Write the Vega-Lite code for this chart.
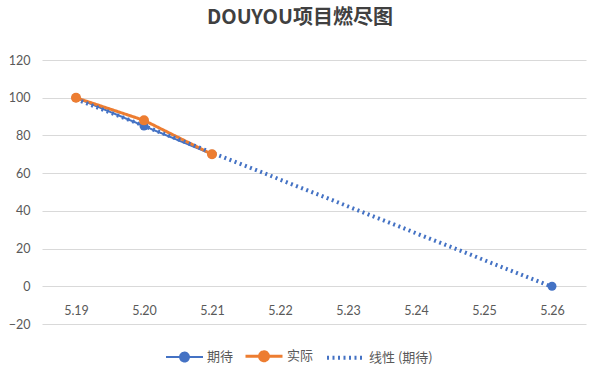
{
  "$schema": "https://vega.github.io/schema/vega-lite/v6.json",
  "width": 544,
  "height": 264,
  "autosize": {"type": "none"},
  "padding": {"left": 42, "top": 60, "right": 15, "bottom": 48},
  "background": "white",
  "config": {"view": {"stroke": null}},
  "title": {
    "text": "DOUYOU项目燃尽图",
    "font": "Noto Sans CJK SC",
    "fontSize": 20,
    "fontWeight": "bold",
    "color": "#404040",
    "anchor": "middle",
    "dx": -14,
    "offset": 26
  },
  "data": {
    "values": [
      {"date": "5.19", "series": "期待", "value": 100},
      {"date": "5.20", "series": "期待", "value": 85},
      {"date": "5.21", "series": "期待", "value": 70},
      {"date": "5.22", "series": "期待", "value": null},
      {"date": "5.26", "series": "期待", "value": 0},
      {"date": "5.19", "series": "实际", "value": 100},
      {"date": "5.20", "series": "实际", "value": 88},
      {"date": "5.21", "series": "实际", "value": 70},
      {"date": "5.19", "series": "线性 (期待)", "value": 99.3},
      {"date": "5.26", "series": "线性 (期待)", "value": -0.3}
    ]
  },
  "encoding": {
    "x": {
      "field": "date",
      "type": "ordinal",
      "scale": {"type": "point", "domain": ["5.19", "5.20", "5.21", "5.22", "5.23", "5.24", "5.25", "5.26"], "padding": 0.5},
      "axis": {
        "title": null,
        "orient": "bottom",
        "domain": false,
        "ticks": false,
        "grid": false,
        "labelAngle": 0,
        "offset": -20,
        "labelPadding": 0,
        "labelFont": "Lato",
        "labelFontSize": 12.5,
        "labelColor": "#595959"
      }
    },
    "y": {
      "field": "value",
      "type": "quantitative",
      "scale": {"domain": [-20, 120], "nice": false},
      "axis": {
        "title": null,
        "values": [-20, 0, 20, 40, 60, 80, 100, 120],
        "domain": false,
        "ticks": false,
        "grid": true,
        "gridColor": "#D9D9D9",
        "gridWidth": 1,
        "labelPadding": 12,
        "labelFont": "Lato",
        "labelFontSize": 12.5,
        "labelColor": "#595959"
      }
    }
  },
  "layer": [
    {
      "mark": {"type": "line", "invalid": "break-paths-filter-domains"},
      "encoding": {
        "color": {
          "field": "series",
          "type": "nominal",
          "scale": {"domain": ["期待", "实际", "线性 (期待)"], "range": ["#4472C4", "#ED7D31", "#4472C4"]},
          "legend": {
            "title": null,
            "orient": "none",
            "legendX": 123,
            "legendY": 276,
            "direction": "horizontal",
            "symbolSize": 1369,
            "symbolType": "M-1,0H1",
            "labelFont": "Noto Sans CJK SC",
            "labelFontSize": 13,
            "labelColor": "#595959",
            "labelOffset": 3,
            "columnPadding": 5,
            "encode": {
              "symbols": {
                "update": {
                  "shape": {"signal": "datum.value === '线性 (期待)' ? 'M-1,0H1' : 'M-1,0H1M-0.24,0A0.24,0.24 0 1 1 0.24,0A0.24,0.24 0 1 1 -0.24,0'"},
                  "fill": {"signal": "datum.value === '实际' ? '#ED7D31' : datum.value === '期待' ? '#4472C4' : 'transparent'"},
                  "stroke": {"signal": "datum.value === '实际' ? '#ED7D31' : '#4472C4'"},
                  "strokeWidth": {"signal": "datum.value === '实际' ? 4 : 2"},
                  "strokeDash": {"signal": "datum.value === '线性 (期待)' ? [2, 3.5] : [1, 0]"}
                }
              }
            }
          }
        },
        "strokeDash": {
          "field": "series",
          "type": "nominal",
          "scale": {"domain": ["期待", "实际", "线性 (期待)"], "range": [[1, 0], [1, 0], [2, 3.5]]},
          "legend": null
        },
        "strokeWidth": {
          "field": "series",
          "type": "ordinal",
          "scale": {"domain": ["期待", "实际", "线性 (期待)"], "range": [2, 4, 2]},
          "legend": null
        }
      }
    },
    {
      "transform": [{"filter": "datum.series === '期待' && datum.value != null"}],
      "mark": {"type": "point", "filled": true, "opacity": 1, "size": 80},
      "encoding": {"color": {"field": "series", "type": "nominal", "legend": null}}
    },
    {
      "transform": [{"filter": "datum.series === '实际'"}],
      "mark": {"type": "point", "filled": true, "opacity": 1, "size": 100},
      "encoding": {"color": {"field": "series", "type": "nominal", "legend": null}}
    }
  ]
}
